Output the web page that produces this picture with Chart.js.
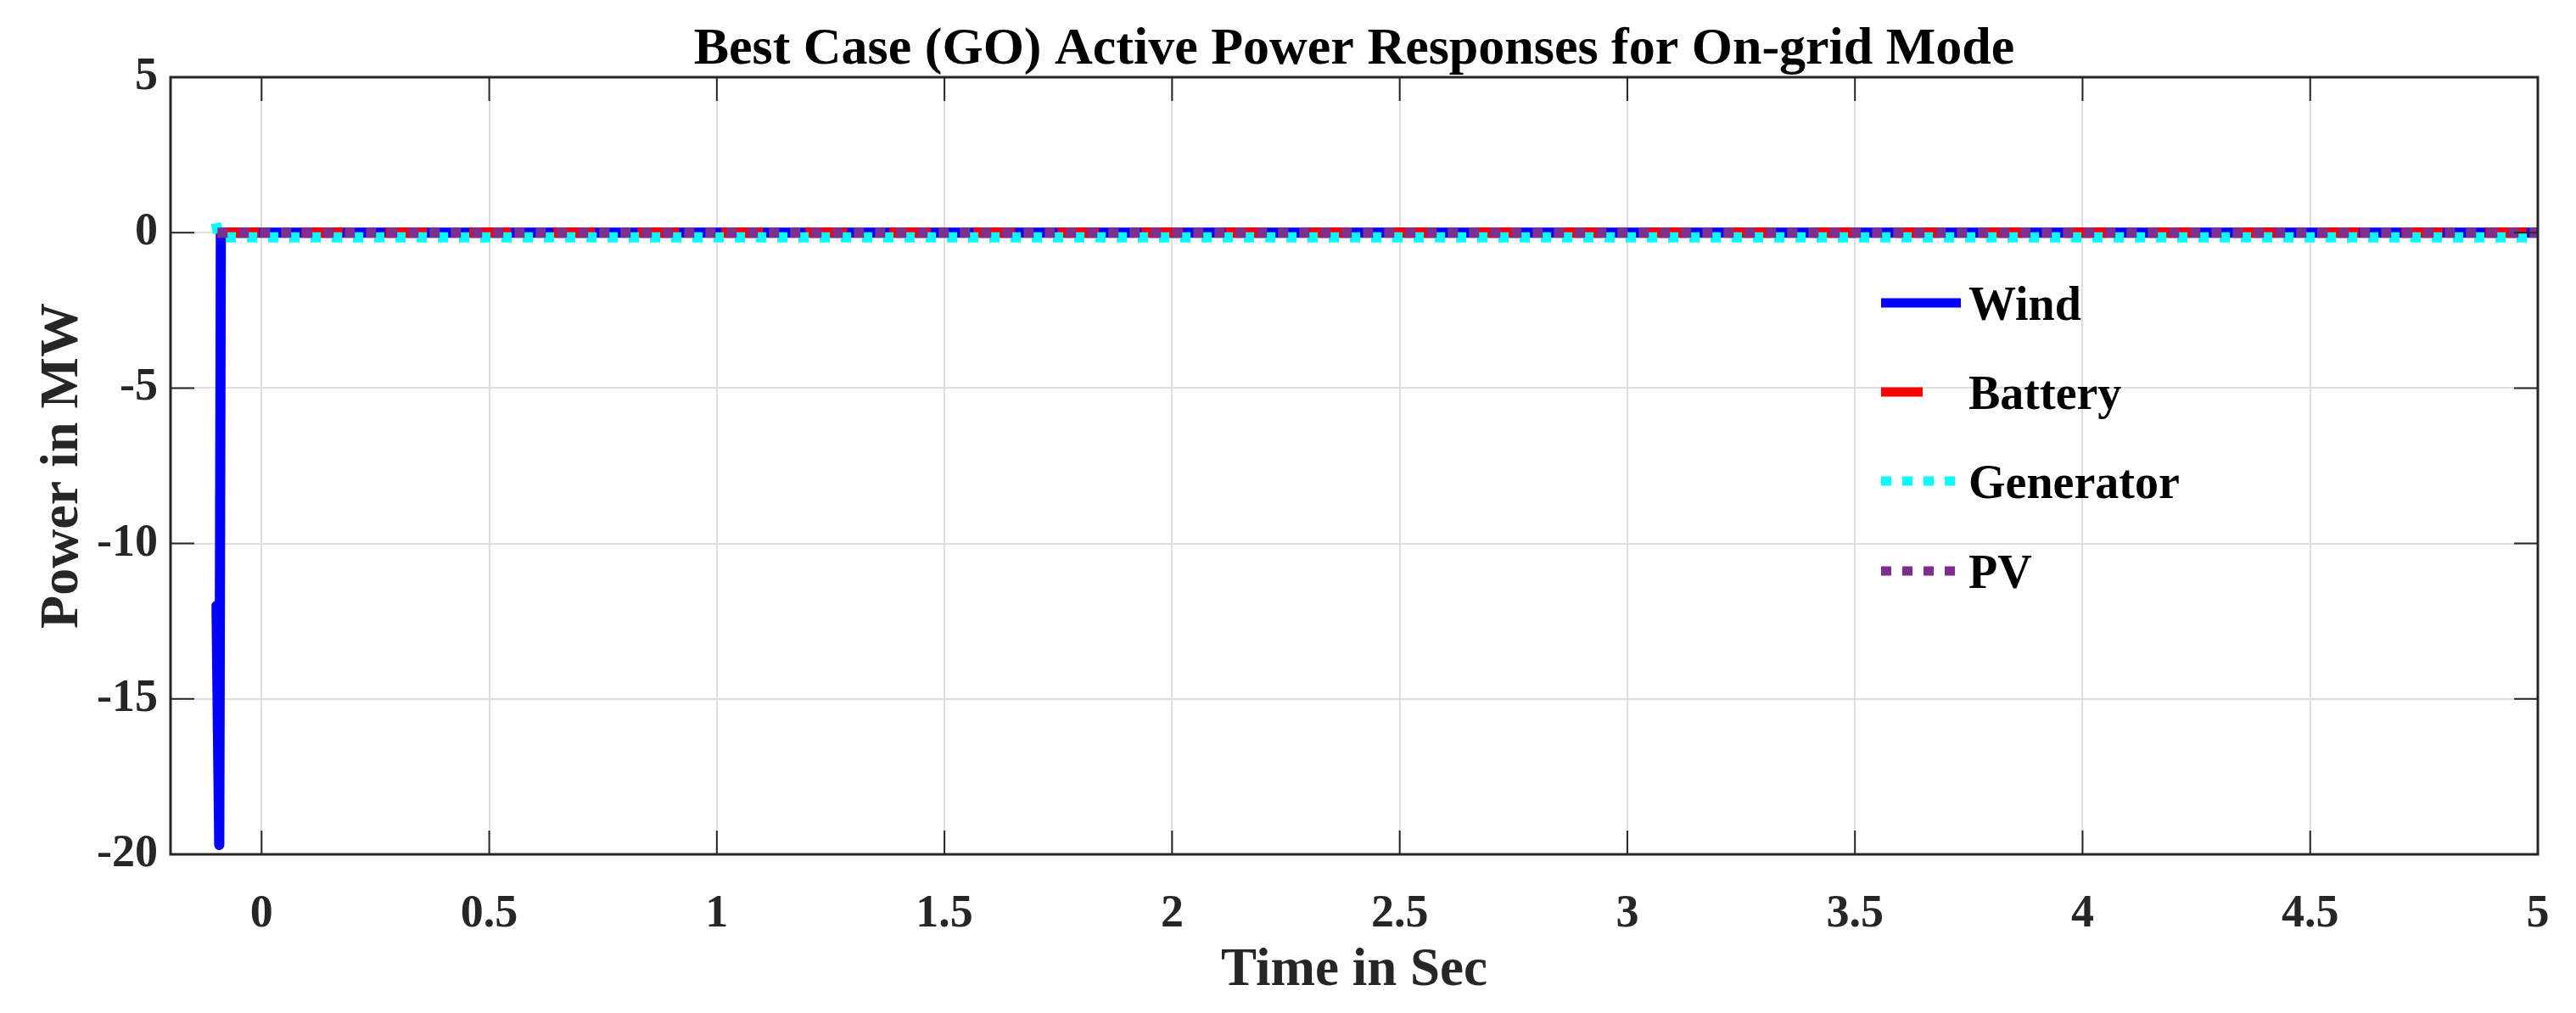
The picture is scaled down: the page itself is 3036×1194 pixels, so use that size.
<!DOCTYPE html>
<html>
<head>
<meta charset="utf-8">
<script src="https://cdn.jsdelivr.net/npm/chart.js@4.4.1/dist/chart.umd.min.js"></script>
<style>
  html, body { margin: 0; padding: 0; background: #fff; }
  #wrap { width: 3036px; height: 1194px; }
</style>
</head>
<body>
<div id="wrap"><canvas id="powerChart"></canvas></div>
<script>
// axis ticks
const xTicks = [0, 0.5, 1, 1.5, 2, 2.5, 3, 3.5, 4, 4.5, 5];
const yTicks = [-20, -15, -10, -5, 0, 5];

// series (time in s, power in MW)
const windTime = [-0.099, -0.093, -0.0895, 5];
const windPower = [-12.0, -19.7, 0, 0];
const batteryTime = [-0.097, 5];
const batteryPower = [0, 0];
const genTime = [-0.1, -0.094, 5];
const genPower = [0.3, -0.15, -0.15];
const pvTime = [-0.097, 5];
const pvPower = [0, 0];

const TITLE = 'Best Case (GO) Active Power Responses for On-grid Mode';
const FONT = "'Liberation Serif', 'Times New Roman', serif";
const INK = '#262626';

function pts(xs, ys) {
  return xs.map((x, i) => ({ x: x, y: ys[i] }));
}

// box + inward tick marks like matlab axes
const axesBox = {
  id: 'axesBox',
  afterDatasetsDraw(chart) {
    const { ctx, chartArea: a, scales } = chart;
    const len = 28;
    ctx.save();
    ctx.strokeStyle = INK;
    ctx.lineWidth = 2;
    ctx.beginPath();
    xTicks.forEach(v => {
      const px = scales.x.getPixelForValue(v);
      ctx.moveTo(px, a.bottom); ctx.lineTo(px, a.bottom - len);
      ctx.moveTo(px, a.top); ctx.lineTo(px, a.top + len);
    });
    yTicks.forEach(v => {
      const py = scales.y.getPixelForValue(v);
      ctx.moveTo(a.left, py); ctx.lineTo(a.left + len, py);
      ctx.moveTo(a.right, py); ctx.lineTo(a.right - len, py);
    });
    ctx.stroke();
    ctx.lineWidth = 3;
    ctx.strokeRect(a.left, a.top, a.right - a.left, a.bottom - a.top);
    ctx.restore();
  }
};

// title centred over the plot box, legend inside it without a frame
const overlay = {
  id: 'overlay',
  afterDraw(chart) {
    const { ctx, chartArea: a } = chart;
    ctx.save();
    ctx.fillStyle = '#000';
    ctx.font = 'bold 62px ' + FONT;
    ctx.textAlign = 'center';
    ctx.textBaseline = 'alphabetic';
    ctx.fillText(TITLE, (a.left + a.right) / 2, 75);

    const x0 = 2217, lineLen = 94, textX = 2320;
    const rowY = [357, 462, 567, 673];
    chart.data.datasets.forEach((ds, i) => {
      const y = rowY[i];
      ctx.strokeStyle = ds.borderColor;
      ctx.lineWidth = 11;
      ctx.lineCap = 'butt';
      ctx.setLineDash(ds.borderDash || []);
      ctx.beginPath();
      ctx.moveTo(x0, y);
      ctx.lineTo(x0 + lineLen, y);
      ctx.stroke();
      ctx.setLineDash([]);
      ctx.fillStyle = '#000';
      ctx.font = 'bold 56px ' + FONT;
      ctx.textAlign = 'left';
      ctx.fillText(ds.label, textX, y + 20);
    });
    ctx.restore();
  }
};

new Chart(document.getElementById('powerChart'), {
  type: 'line',
  data: {
    datasets: [
      {
        label: 'Wind',
        data: pts(windTime, windPower),
        borderColor: '#0000ff',
        borderWidth: 12,
        borderCapStyle: 'round',
        borderJoinStyle: 'round',
        order: 3
      },
      {
        label: 'Battery',
        data: pts(batteryTime, batteryPower),
        borderColor: '#ff0000',
        borderWidth: 12,
        borderDash: [49, 50],
        borderCapStyle: 'butt',
        order: 2
      },
      {
        label: 'Generator',
        data: pts(genTime, genPower),
        borderColor: '#00ffff',
        borderWidth: 12,
        borderDash: [12, 13],
        borderCapStyle: 'butt',
        order: 1
      },
      {
        label: 'PV',
        data: pts(pvTime, pvPower),
        borderColor: '#7e2f8e',
        borderWidth: 12,
        borderDash: [12, 13],
        borderCapStyle: 'butt',
        order: 0
      }
    ]
  },
  options: {
    responsive: true,
    maintainAspectRatio: false,
    animation: false,
    devicePixelRatio: 1,
    layout: { padding: { left: 0, right: 45, top: 91, bottom: 0 } },
    elements: { point: { radius: 0 }, line: { tension: 0 } },
    plugins: {
      legend: { display: false },
      tooltip: { enabled: false },
      title: { display: false }
    },
    scales: {
      x: {
        type: 'linear',
        min: -0.2,
        max: 5,
        afterBuildTicks: s => { s.ticks = xTicks.map(v => ({ value: v })); },
        afterFit: s => { s.height = 187; s.paddingLeft = 0; s.paddingRight = 0; },
        grid: { color: '#dfdfdf', lineWidth: 2, drawTicks: false },
        border: { display: false },
        ticks: {
          color: INK,
          padding: 39,
          maxRotation: 0,
          font: { family: FONT, size: 54, weight: 'bold' },
          callback: v => String(v)
        },
        title: {
          display: true,
          text: 'Time in Sec',
          color: INK,
          font: { family: FONT, size: 63, weight: 'bold', lineHeight: 1.2 },
          padding: { top: 0, bottom: 11 }
        }
      },
      y: {
        type: 'linear',
        min: -20,
        max: 5,
        afterBuildTicks: s => { s.ticks = yTicks.map(v => ({ value: v })); },
        afterFit: s => { s.width = 201; s.paddingTop = 0; s.paddingBottom = 0; },
        grid: { color: '#dfdfdf', lineWidth: 2, drawTicks: false },
        border: { display: false },
        ticks: {
          color: INK,
          padding: 15,
          font: { family: FONT, size: 54, weight: 'bold' },
          callback: v => String(v)
        },
        title: {
          display: true,
          text: 'Power in MW',
          color: INK,
          font: { family: FONT, size: 64, weight: 'bold', lineHeight: 1.2 },
          padding: { top: 36, bottom: 0 }
        }
      }
    }
  },
  plugins: [axesBox, overlay]
});
</script>
</body>
</html>
